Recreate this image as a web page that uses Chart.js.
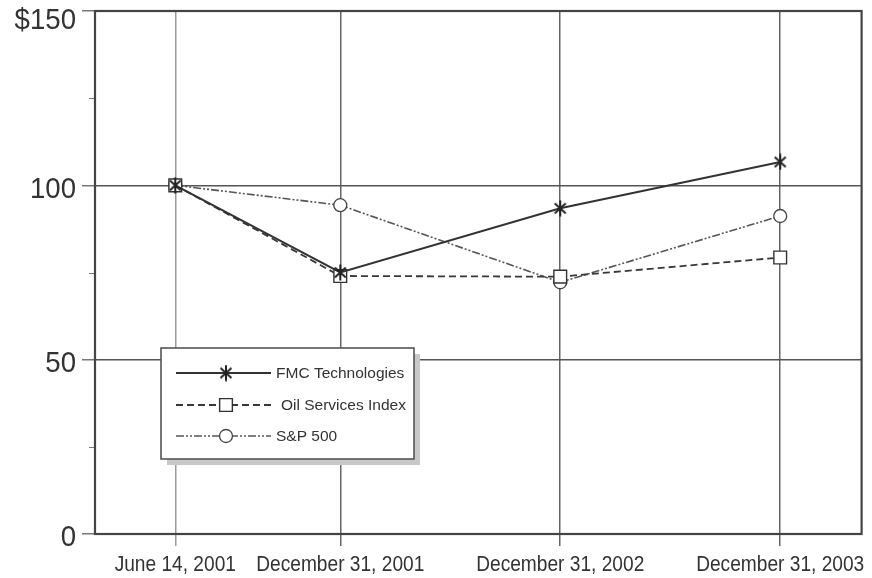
<!DOCTYPE html>
<html><head><meta charset="utf-8">
<script src="https://cdn.jsdelivr.net/npm/chart.js@4"></script>
<style>html,body{margin:0;padding:0;background:#fff}</style>
</head><body>
<canvas id="c" width="872" height="578"></canvas>
<script>
const categories = ['June 14, 2001', 'December 31, 2001', 'December 31, 2002', 'December 31, 2003'];
const categoryPositions = [0, 0.75, 1.75, 2.75];
const fmcValues = [100, 75, 93.4, 106.7];
const oilValues = [100, 74, 73.8, 79.3];
const spValues = [100, 94.3, 72.2, 91.2];
const seriesNames = ['FMC Technologies', 'Oil Services Index', 'S&P 500'];
const yTickValues = [0, 25, 50, 75, 100, 125, 150];
const yTickLabels = ['0', '', '50', '', '100', '', '$150'];

const FONT = '"Liberation Sans", Arial, Helvetica, sans-serif';

function asterisk() {
  const c = document.createElement('canvas');
  c.width = 14; c.height = 17;
  const g = c.getContext('2d');
  g.strokeStyle = '#222'; g.lineWidth = 2; g.lineCap = 'butt';
  g.beginPath();
  g.moveTo(1.5, 3.5); g.lineTo(12.5, 13.5);
  g.moveTo(12.5, 3.5); g.lineTo(1.5, 13.5);
  g.moveTo(7, 0.5); g.lineTo(7, 16.5);
  g.stroke();
  return c;
}
const starImg = asterisk();

function toPoints(vals) { return vals.map((v, i) => ({ x: categoryPositions[i], y: v })); }

function condensedText(ctx, text, x, y, size, sx, align, baseline) {
  ctx.save();
  ctx.fillStyle = '#333';
  ctx.font = size + 'px ' + FONT;
  ctx.textAlign = align; ctx.textBaseline = baseline;
  ctx.translate(x, y);
  ctx.scale(sx, 1);
  ctx.fillText(text, 0, 0);
  ctx.restore();
}

const frame = {
  id: 'frame',
  beforeDatasetsDraw(chart) {
    const { ctx, chartArea: a } = chart;
    const ys = chart.scales.y, xs = chart.scales.x;
    ctx.save();
    ctx.strokeStyle = '#777'; ctx.lineWidth = 1;
    yTickValues.forEach((v, i) => {
      const py = ys.getPixelForValue(v);
      if (yTickLabels[i] === '') {
        const p = Math.round(py) + 0.5;
        ctx.beginPath(); ctx.moveTo(a.left - 6, p); ctx.lineTo(a.left, p); ctx.stroke();
      } else {
        condensedText(ctx, yTickLabels[i], 76, Math.max(py + 4, 21), 30, 0.92, 'right', 'middle');
      }
    });
    categoryPositions.forEach((v, i) => {
      condensedText(ctx, categories[i], xs.getPixelForValue(v), 571, 22, 0.87, 'center', 'alphabetic');
    });
    ctx.strokeStyle = '#444'; ctx.lineWidth = 2.2;
    ctx.strokeRect(a.left, a.top, a.right - a.left, a.bottom - a.top);
    ctx.restore();
  }
};

const legendBox = {
  id: 'legendBox',
  afterDraw(chart) {
    const { ctx } = chart;
    const bx = 161, by = 348, bw = 253, bh = 111;
    ctx.save();
    ctx.fillStyle = '#c8c8c8';
    ctx.fillRect(bx + 6, by + 6, bw, bh);
    ctx.fillStyle = '#fff';
    ctx.fillRect(bx, by, bw, bh);
    ctx.strokeStyle = '#555'; ctx.lineWidth = 1.6;
    ctx.strokeRect(bx, by, bw, bh);
    const rows = [373, 405, 436];
    chart.data.datasets.forEach((ds, i) => {
      const y = rows[i];
      ctx.save();
      ctx.strokeStyle = ds.borderColor; ctx.lineWidth = ds.borderWidth;
      ctx.setLineDash(ds.borderDash || []);
      ctx.beginPath(); ctx.moveTo(176, y); ctx.lineTo(271, y); ctx.stroke();
      ctx.restore();
      ctx.save();
      ctx.fillStyle = ds.pointBackgroundColor; ctx.strokeStyle = ds.pointBorderColor;
      ctx.lineWidth = ds.pointBorderWidth;
      Chart.helpers.drawPoint(ctx, { pointStyle: ds.pointStyle, radius: ds.pointRadius, rotation: 0, borderWidth: ds.pointBorderWidth }, 226, y);
      ctx.restore();
      ctx.fillStyle = '#333';
      ctx.font = '15.5px ' + FONT;
      ctx.textBaseline = 'middle'; ctx.textAlign = 'left';
      ctx.fillText(ds.label, i === 1 ? 281 : 276, y + 1);
    });
    ctx.restore();
  }
};

new Chart(document.getElementById('c'), {
  type: 'line',
  data: {
    datasets: [
      {
        label: seriesNames[0], data: toPoints(fmcValues),
        borderColor: '#333', borderWidth: 2, pointStyle: starImg, pointRadius: 7,
        pointBackgroundColor: '#333', pointBorderColor: '#333', pointBorderWidth: 1
      },
      {
        label: seriesNames[1], data: toPoints(oilValues),
        borderColor: '#383838', borderWidth: 1.8, borderDash: [7, 4], pointStyle: 'rect', pointRadius: 9,
        pointBackgroundColor: '#fff', pointBorderColor: '#333', pointBorderWidth: 1.4
      },
      {
        label: seriesNames[2], data: toPoints(spValues),
        borderColor: '#555', borderWidth: 1.6, borderDash: [8, 2, 2, 2, 2, 2], pointStyle: 'circle', pointRadius: 6.5,
        pointBackgroundColor: '#fff', pointBorderColor: '#444', pointBorderWidth: 1.3
      }
    ]
  },
  options: {
    responsive: false, animation: false, devicePixelRatio: 1,
    layout: { padding: { left: 0, top: 11, right: 10, bottom: 0 } },
    plugins: { legend: { display: false }, tooltip: { enabled: false } },
    elements: { line: { tension: 0 } },
    scales: {
      x: {
        type: 'linear', min: -0.365, max: 3.12,
        afterBuildTicks(s) { s.ticks = categoryPositions.map(v => ({ value: v })); },
        afterFit(s) { s.height = 44; s.paddingLeft = 0; s.paddingRight = 0; },
        ticks: { display: false },
        grid: {
          drawOnChartArea: true, tickLength: 12, lineWidth: 1.5,
          color: ctx => ctx.index === 0 ? '#9a9a9a' : '#666',
          tickColor: ctx => ctx.index === 0 ? '#9a9a9a' : '#666'
        },
        border: { display: false }
      },
      y: {
        type: 'linear', min: 0, max: 150,
        afterBuildTicks(s) { s.ticks = yTickValues.map(v => ({ value: v })); },
        afterFit(s) { s.width = 95; s.paddingTop = 0; s.paddingBottom = 0; },
        ticks: { display: false },
        grid: {
          tickLength: 13, lineWidth: 1.5,
          color: ctx => (ctx.tick && yTickLabels[yTickValues.indexOf(ctx.tick.value)] !== '') ? '#555' : 'rgba(0,0,0,0)',
          tickColor: ctx => (ctx.tick && yTickLabels[yTickValues.indexOf(ctx.tick.value)] !== '') ? '#777' : 'rgba(0,0,0,0)'
        },
        border: { display: false }
      }
    }
  },
  plugins: [frame, legendBox]
});
</script>
</body></html>
